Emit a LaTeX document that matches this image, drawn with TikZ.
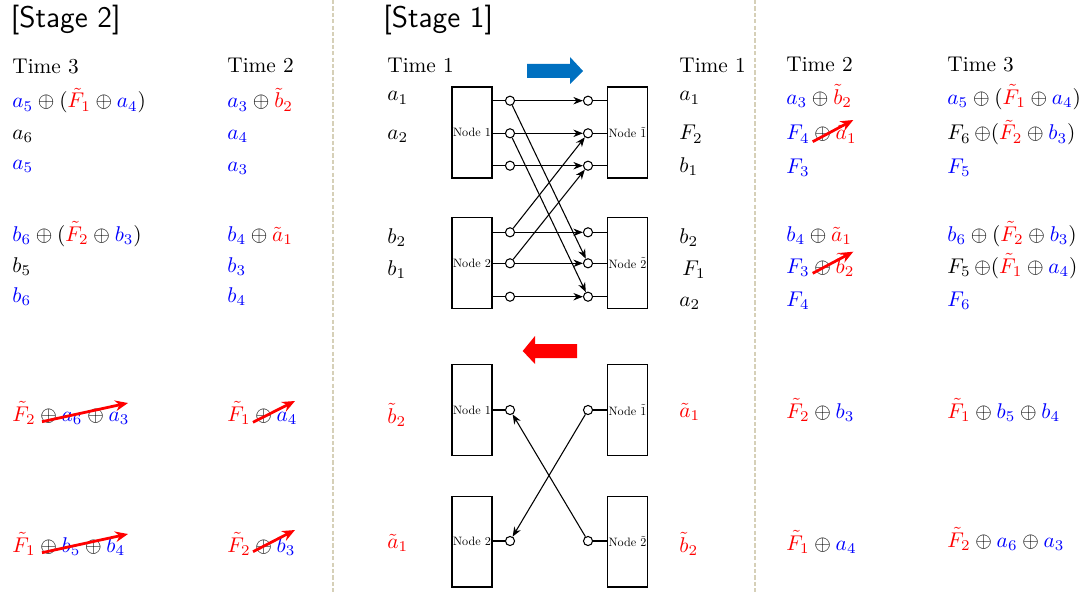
\documentclass[tikz,border=0pt]{standalone}
\usepackage{amsmath}
\usepackage{graphicx}
\usepackage{tikz}
\usetikzlibrary{
    arrows.meta,
    calc,
    positioning
}
\definecolor{ink}{RGB}{0,0,0}
\definecolor{fresh}{RGB}{0,0,255}
\definecolor{coded}{RGB}{255,0,0}
\definecolor{fwdblue}{RGB}{0,112,192}
\definecolor{sepline}{RGB}{214,208,184}
\newcommand{\freshtxt}[1]{{\color{fresh}#1}}
\newcommand{\codedtxt}[1]{{\color{coded}#1}}
\newcommand{\boxtxt}[1]{\makebox[0pt]{\scalebox{0.57}{#1}}}
\tikzset{
    line cap=round,
    line join=round,
    entry/.style={
        anchor=base west,
        inner sep=0pt,
        text=ink
    },
    stagetitle/.style={
        anchor=base west,
        inner sep=0pt,
        font=\sffamily\fontsize{14}{17}\selectfont
    },
    nodebox/.style={
        rectangle,
        draw=ink,
        line width=0.5pt,
        minimum width=0.66cm,
        minimum height=1.5cm,
        inner sep=0pt
    },
    port/.style={
        circle,
        draw=ink,
        fill=white,
        line width=0.5pt,
        minimum size=0.15cm,
        inner sep=0pt
    },
    stub/.style={
        draw=ink,
        line width=0.5pt
    },
    relay/.style={
        -{Stealth[length=4.5pt,width=3.5pt]},
        draw=ink,
        line width=0.5pt
    },
    strike/.style={
        -{Stealth[length=6pt,width=5pt]},
        draw=coded,
        line width=1.3pt
    },
    separator/.style={
        draw=sepline,
        line width=0.8pt,
        line cap=butt,
        dash pattern=on 2pt off 1pt
    }
}

\begin{document}
\begin{tikzpicture}[x=0.0165cm, y=-0.0165cm]
\useasboundingbox (0,0) rectangle (1085,594);

% Separators
\draw[separator] (333,0) -- (333,594);
\draw[separator] (755,0) -- (755,594);

% Titles
\node[stagetitle] (title2) at (10.5,28) {[Stage 2]};
\node[stagetitle] (title1) at (383,28) {[Stage 1]};

% Stage 2, Time 3
\node[entry] (ta0) at (12,74) {Time 3};
\node[entry] (ta1) at (12,108) {$\freshtxt{a_5}\oplus(\codedtxt{\tilde F_1}\oplus\freshtxt{a_4})$};
\node[entry] (ta2) at (12,139) {$a_6$};
\node[entry] (ta3) at (12,169) {$\freshtxt{a_5}$};
\node[entry] (ta4) at (12,241) {$\freshtxt{b_6}\oplus(\codedtxt{\tilde F_2}\oplus\freshtxt{b_3})$};
\node[entry] (ta5) at (12,272) {$b_5$};
\node[entry] (ta6) at (12,302) {$\freshtxt{b_6}$};
\node[entry] (ta7) at (12,421) {$\codedtxt{\tilde F_2}\oplus\freshtxt{a_6}\oplus\freshtxt{a_3}$};
\node[entry] (ta8) at (12,552) {$\codedtxt{\tilde F_1}\oplus\freshtxt{b_5}\oplus\freshtxt{b_4}$};

% Stage 2, Time 2
\node[entry] (tb0) at (227,73) {Time 2};
\node[entry] (tb1) at (227,108) {$\freshtxt{a_3}\oplus\codedtxt{\tilde b_2}$};
\node[entry] (tb2) at (227,139) {$\freshtxt{a_4}$};
\node[entry] (tb3) at (227,171) {$\freshtxt{a_3}$};
\node[entry] (tb4) at (227,241) {$\freshtxt{b_4}\oplus\codedtxt{\tilde a_1}$};
\node[entry] (tb5) at (227,272) {$\freshtxt{b_3}$};
\node[entry] (tb6) at (227,302) {$\freshtxt{b_4}$};
\node[entry] (tb7) at (227,421) {$\codedtxt{\tilde F_1}\oplus\freshtxt{a_4}$};
\node[entry] (tb8) at (227,552) {$\codedtxt{\tilde F_2}\oplus\freshtxt{b_3}$};

% Stage 1, sources
\node[entry] (sa0) at (387,73) {Time 1};
\node[entry] (sa1) at (387,101) {$a_1$};
\node[entry] (sa2) at (387,139) {$a_2$};
\node[entry] (sa3) at (387,243) {$b_2$};
\node[entry] (sa4) at (387,275) {$b_1$};
\node[entry] (sa5) at (387,423) {$\codedtxt{\tilde b_2}$};
\node[entry] (sa6) at (387,548) {$\codedtxt{\tilde a_1}$};

% Stage 1, sinks
\node[entry] (sb0) at (679,73) {Time 1};
\node[entry] (sb1) at (679,101) {$a_1$};
\node[entry] (sb2) at (679,140) {$F_2$};
\node[entry] (sb3) at (679,172) {$b_1$};
\node[entry] (sb4) at (679,243) {$b_2$};
\node[entry] (sb5) at (682,275) {$F_1$};
\node[entry] (sb6) at (679,306) {$a_2$};
\node[entry] (sb7) at (679,417) {$\codedtxt{\tilde a_1}$};
\node[entry] (sb8) at (679,552) {$\codedtxt{\tilde b_2}$};

% Right side, Time 2
\node[entry] (tc0) at (786,72) {Time 2};
\node[entry] (tc1) at (786,104) {$\freshtxt{a_3}\oplus\codedtxt{\tilde b_2}$};
\node[entry] (tc2) at (786,140) {$\freshtxt{F_4}\oplus\codedtxt{\tilde a_1}$};
\node[entry] (tc3) at (786,173) {$\freshtxt{F_3}$};
\node[entry] (tc4) at (786,241) {$\freshtxt{b_4}\oplus\codedtxt{\tilde a_1}$};
\node[entry] (tc5) at (786,273) {$\freshtxt{F_3}\oplus\codedtxt{\tilde b_2}$};
\node[entry] (tc6) at (786,306) {$\freshtxt{F_4}$};
\node[entry] (tc7) at (786,418) {$\codedtxt{\tilde F_2}\oplus\freshtxt{b_3}$};
\node[entry] (tc8) at (786,550) {$\codedtxt{\tilde F_1}\oplus\freshtxt{a_4}$};

% Right side, Time 3
\node[entry] (td0) at (947,72) {Time 3};
\node[entry] (td1) at (947,104) {$\freshtxt{a_5}\oplus(\codedtxt{\tilde F_1}\oplus\freshtxt{a_4})$};
\node[entry] (td2) at (947,140) {$F_6\,{\oplus}(\codedtxt{\tilde F_2}\oplus\freshtxt{b_3})$};
\node[entry] (td3) at (947,173) {$\freshtxt{F_5}$};
\node[entry] (td4) at (947,241) {$\freshtxt{b_6}\oplus(\codedtxt{\tilde F_2}\oplus\freshtxt{b_3})$};
\node[entry] (td5) at (947,273) {$F_5\,{\oplus}(\codedtxt{\tilde F_1}\oplus\freshtxt{a_4})$};
\node[entry] (td6) at (947,306) {$\freshtxt{F_6}$};
\node[entry] (td7) at (947,418) {$\codedtxt{\tilde F_1}\oplus\freshtxt{b_5}\oplus\freshtxt{b_4}$};
\node[entry] (td8) at (947,547) {$\codedtxt{\tilde F_2}\oplus\freshtxt{a_6}\oplus\freshtxt{a_3}$};

% Direction arrows
\fill[fwdblue] (527,64) -- (570,64) -- (570,57) -- (583,71) -- (570,84) -- (570,78) -- (527,78) -- cycle;
\fill[coded] (577,344) -- (535,344) -- (535,336) -- (522.7,351) -- (535,364) -- (535,358) -- (577,358) -- cycle;

% Upper exchange
\node[nodebox] (n1) at (472,132.5) {\boxtxt{Node 1}};
\node[nodebox] (n2) at (472,263) {\boxtxt{Node 2}};
\node[nodebox] (m1) at (627.5,132.5) {\boxtxt{Node $\tilde{1}$}};
\node[nodebox] (m2) at (627.5,263) {\boxtxt{Node $\tilde{2}$}};

\foreach \y [count=\i] in {100.7,133.3,165.7,232.3,263.3,296.7} {
    \node[port] (p\i) at (510,\y) {};
    \node[port] (q\i) at (588,\y) {};
}
\foreach \i in {1,2,3} {
    \draw[stub] (n1.east |- p\i) -- (p\i);
    \draw[stub] (q\i) -- (m1.west |- q\i);
}
\foreach \i in {4,5,6} {
    \draw[stub] (n2.east |- p\i) -- (p\i);
    \draw[stub] (q\i) -- (m2.west |- q\i);
}
\foreach \i in {1,...,6}
    \draw[relay] (p\i) -- (q\i);
\draw[relay] (p1) -- (q5);
\draw[relay] (p2) -- (q6);
\draw[relay] (p4) -- (q2);
\draw[relay] (p5) -- (q3);

% Lower exchange
\node[nodebox] (k1) at (472,410) {\boxtxt{Node 1}};
\node[nodebox] (k2) at (472,541.5) {\boxtxt{Node 2}};
\node[nodebox] (j1) at (627.5,410) {\boxtxt{Node $\tilde{1}$}};
\node[nodebox] (j2) at (627.5,541.5) {\boxtxt{Node $\tilde{2}$}};

\node[port] (u1) at (510,410) {};
\node[port] (u2) at (510,541) {};
\node[port] (v1) at (588,410) {};
\node[port] (v2) at (588,541) {};
\draw[stub] (k1.east |- u1) -- (u1);
\draw[stub] (k2.east |- u2) -- (u2);
\draw[stub] (v1) -- (j1.west |- v1);
\draw[stub] (v2) -- (j2.west |- v2);
\draw[relay] (v1) -- (u2);
\draw[relay] (v2) -- (u1);

% Strike-outs
\coordinate (s1a) at (42,421.7);  \coordinate (s1b) at (128,403);
\coordinate (s2a) at (253,422.3); \coordinate (s2b) at (295,401);
\coordinate (s3a) at (42,552.7);  \coordinate (s3b) at (128,534);
\coordinate (s4a) at (253,551.7); \coordinate (s4b) at (295,530);
\coordinate (s5a) at (812.7,141.7); \coordinate (s5b) at (853.3,120);
\coordinate (s6a) at (812.7,273.3); \coordinate (s6b) at (853.3,251.7);
\foreach \i in {1,...,6}
    \draw[strike] (s\i a) -- (s\i b);
\end{tikzpicture}
\end{document}
